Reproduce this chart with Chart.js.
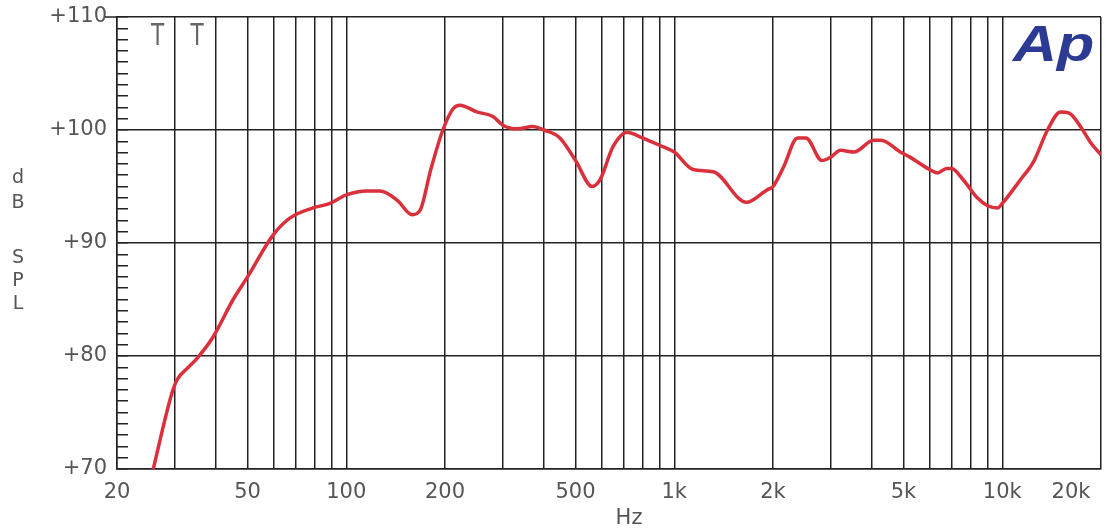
<!DOCTYPE html>
<html>
<head>
<meta charset="utf-8">
<title>dB SPL</title>
<script src="https://cdn.jsdelivr.net/npm/chart.js@4.4.1/dist/chart.umd.min.js"></script>
<style>
    html, body { margin: 0; padding: 0; background: #fff; }
    #wrap { width: 1112px; height: 528px; }
</style>
</head>
<body>
<div id="wrap"><canvas id="myChart" width="1112" height="528"></canvas></div>
<script>

// response curve
var freqHz = [25.6, 29.4, 30.5, 33, 35.1, 39.3, 45.2, 50, 59.8, 67.3, 79.2, 89.2, 100,
    115.6, 126.8, 142.8, 158.8, 168, 181, 197, 212, 222, 250, 280, 301, 332, 370, 400,
    448, 500, 562, 594, 650, 718, 786, 926, 1000, 1142, 1316, 1660, 1916, 2000, 2152,
    2376, 2520, 2820, 3000, 3216, 3530, 4056, 4270, 4886, 5230, 6000, 6340, 6770, 7000,
    7600, 8390, 9020, 9680, 10000, 11360, 12460, 13740, 15060, 16000, 17320, 18580, 20000];

var splDb = [69.6, 76.7, 77.9, 79.0, 79.8, 81.7, 85.0, 87.0, 90.7, 92.2, 93.1, 93.5, 94.25,
    94.6, 94.6, 93.8, 92.5, 92.9, 96.5, 100.0, 101.9, 102.2, 101.6, 101.2, 100.4, 100.1, 100.3, 100.0,
    99.3, 97.3, 95.0, 95.6, 98.5, 99.8, 99.4, 98.5, 98.05, 96.5, 96.3, 93.6, 94.7, 95.0, 96.7,
    99.3, 99.3, 97.3, 97.6, 98.2, 98.05, 99.1, 99.1, 98.05, 97.6, 96.5, 96.2, 96.6, 96.6,
    95.6, 94.0, 93.3, 93.1, 93.5, 95.6, 97.2, 100.0, 101.6, 101.5, 100.3, 98.9, 97.8];

// axes
var freqGrid = [20, 30, 40, 50, 60, 70, 80, 90, 100, 200, 300, 400, 500, 600, 700, 800, 900,
    1000, 2000, 3000, 4000, 5000, 6000, 7000, 8000, 9000, 10000, 20000];
var freqTickValues = [20, 50, 100, 200, 500, 1000, 2000, 5000, 10000, 20000];
var freqTickLabels = ['20', '50', '100', '200', '500', '1k', '2k', '5k', '10k', '20k'];

var dbMin = 70;
var dbMax = 110;
var dbLabelStep = 10;

var yTitleLetters = ['d', 'B', 'S', 'P', 'L'];
var markerText = 'T';
var logoText = 'Ap';

var gridColor = '#222';
var textColor = '#555';

Chart.defaults.font.family = '"DejaVu Sans", Verdana, sans-serif';
Chart.defaults.color = textColor;

var points = [];
for (var i = 0; i != freqHz.length; i++) {
    points.push({ x: freqHz[i], y: splDb[i] });
}

var decorations = {
    id: 'decorations',
    afterDraw: function (chart) {
        var ctx = chart.ctx;
        var xs = chart.scales.x;
        var area = chart.chartArea;

        ctx.save();

        // dash next to +110
        ctx.strokeStyle = gridColor;
        ctx.lineWidth = 1.5;
        ctx.beginPath();
        ctx.moveTo(area.left - 12, area.top);
        ctx.lineTo(area.left, area.top);
        ctx.stroke();

        // stacked "dB SPL"
        ctx.fillStyle = textColor;
        ctx.font = '19px "DejaVu Sans"';
        ctx.textAlign = 'center';
        ctx.textBaseline = 'middle';
        var letterY = [178, 203, 258, 281, 304];
        for (var i = 0; i != yTitleLetters.length; i++) {
            ctx.fillText(yTitleLetters[i], 18, letterY[i]);
        }

        // the two T marks
        ctx.fillStyle = '#666';
        ctx.font = '30px "DejaVu Sans ExtraLight", "DejaVu Sans"';
        ctx.textBaseline = 'alphabetic';
        [26.6, 35.1].forEach(function (f) {
            ctx.save();
            ctx.translate(xs.getPixelForValue(f), area.top + 28);
            ctx.scale(0.72, 1);
            ctx.fillText(markerText, 0, 0);
            ctx.restore();
        });

        // Ap logo
        ctx.fillStyle = '#2d3a94';
        ctx.font = 'italic bold 50px "Liberation Sans", Arial, sans-serif';
        ctx.textAlign = 'left';
        ctx.translate(1013, 61);
        ctx.scale(1.22, 1);
        ctx.fillText(logoText, 0, 0);

        ctx.restore();
    }
};

var config = {
    type: 'line',
    data: {
        datasets: [{
            label: 'SPL',
            data: points,
            borderColor: '#d9303b',
            borderWidth: 3.5,
            pointRadius: 0,
            fill: false,
            cubicInterpolationMode: 'monotone'
        }]
    },
    options: {
        responsive: false,
        animation: false,
        devicePixelRatio: 1,
        layout: { padding: { top: 17, right: 11, left: 0, bottom: 0 } },
        plugins: {
            legend: { display: false },
            tooltip: { enabled: false }
        },
        scales: {
            x: {
                type: 'logarithmic',
                min: 20,
                max: 20000,
                afterBuildTicks: function (scale) {
                    scale.ticks = freqGrid.map(function (v) { return { value: v }; });
                },
                afterFit: function (scale) {
                    scale.height = 59;
                    scale.paddingLeft = 0;
                    scale.paddingRight = 0;
                },
                ticks: {
                    autoSkip: false,
                    maxRotation: 0,
                    padding: 11,
                    font: { size: 21 },
                    color: textColor,
                    callback: function (value) {
                        var k = freqTickValues.indexOf(value);
                        if (k < 0) return '';
                        // last label sits left of the right edge
                        if (k == freqTickValues.length - 1) return freqTickLabels[k] + '\u00a0'.repeat(9);
                        return freqTickLabels[k];
                    }
                },
                grid: {
                    color: gridColor,
                    lineWidth: 1.5,
                    drawTicks: false
                },
                border: { display: true, color: gridColor, width: 1.5 },
                title: {
                    display: true,
                    text: '\u00a0'.repeat(6) + 'Hz',
                    font: { size: 21 },
                    color: textColor,
                    padding: { top: 0, bottom: -3 }
                }
            },
            y: {
                type: 'linear',
                min: dbMin,
                max: dbMax,
                afterFit: function (scale) {
                    scale.width = 117;
                    scale.paddingTop = 0;
                    scale.paddingBottom = 0;
                },
                ticks: {
                    stepSize: 1,
                    autoSkip: false,
                    padding: 21,
                    font: { size: 21 },
                    color: textColor,
                    callback: function (value) {
                        return value % dbLabelStep === 0 ? '+' + value : '';
                    }
                },
                grid: {
                    color: function (c) {
                        return c.tick && c.tick.value % dbLabelStep === 0 ? gridColor : 'rgba(0,0,0,0)';
                    },
                    lineWidth: 1.5,
                    drawTicks: true,
                    tickLength: -11,
                    tickColor: gridColor,
                    tickWidth: 1.5
                },
                border: { display: true, color: gridColor, width: 1.5 }
            }
        }
    },
    plugins: [decorations]
};

var myChart = new Chart(document.getElementById('myChart'), config);

</script>
</body>
</html>
